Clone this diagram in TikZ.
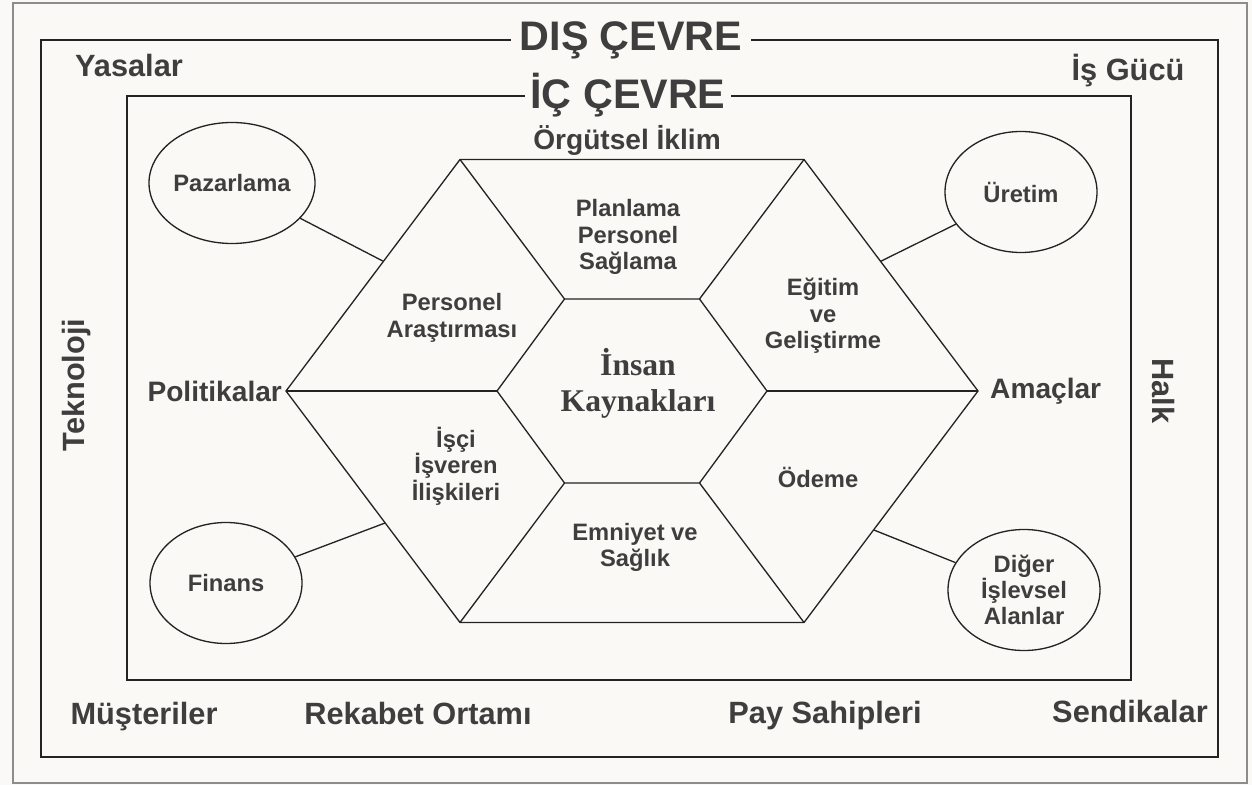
\documentclass[tikz,border=0pt]{standalone}
\usepackage{fontspec}
\setmainfont{Liberation Sans}
\newfontfamily\serifbold{Liberation Serif}
\usetikzlibrary{shapes.geometric,calc,positioning}
\definecolor{paperBg}{RGB}{250,249,245}
\definecolor{inkGray}{RGB}{62,62,62}
\definecolor{lineGray}{RGB}{35,35,35}

\begin{document}
\begin{tikzpicture}[
  every node/.style={text=inkGray},
  frame/.style={
    draw=lineGray,
    line width=0.8pt,
  },
  hexline/.style={
    draw=lineGray,
    line width=0.75pt,
    line join=miter,
  },
  envtitle/.style={
    fill=paperBg,
    inner xsep=5pt,
    inner ysep=2pt,
    font=\bfseries\fontsize{23.5}{27}\selectfont,
  },
  outerlbl/.style={
    anchor=base,
    font=\bfseries\fontsize{17.5}{20}\selectfont,
  },
  midlbl/.style={
    font=\bfseries\fontsize{16}{18}\selectfont,
  },
  innerlbl/.style={
    align=center,
    font=\bfseries\fontsize{13.5}{15}\selectfont,
  },
  area/.style={
    ellipse,
    draw=lineGray,
    line width=0.75pt,
    minimum width=30.4mm,
    minimum height=24.2mm,
    inner sep=0pt,
    align=center,
    font=\bfseries\fontsize{13.5}{14.6}\selectfont,
  },
]

  % paper and frames
  \fill[paperBg] (0,0) rectangle (25.04,15.7);
  \draw[draw=black!45, line width=0.6pt] (0.26,0.04) rectangle (24.94,15.64);
  \draw[frame] (0.82,0.56) rectangle (24.36,14.9);
  \draw[frame] (2.54,2.1) rectangle (22.62,13.78);

  \node[envtitle] (dis) at (12.62,14.9) {DIŞ ÇEVRE};
  \node[envtitle, inner xsep=3pt] (ic) at (12.56,13.8) {İÇ ÇEVRE};

  % hexagon corners
  \coordinate (o1) at (19.56,7.88);
  \coordinate (o2) at (16.08,12.51);
  \coordinate (o3) at (9.20,12.51);
  \coordinate (o4) at (5.72,7.88);
  \coordinate (o5) at (9.20,3.25);
  \coordinate (o6) at (16.08,3.25);

  \coordinate (i1) at (15.34,7.88);
  \coordinate (i2) at (13.99,9.72);
  \coordinate (i3) at (11.29,9.72);
  \coordinate (i4) at (9.94,7.88);
  \coordinate (i5) at (11.29,6.04);
  \coordinate (i6) at (13.99,6.04);

  \draw[hexline] (o1) -- (o2) -- (o3) -- (o4) -- (o5) -- (o6) -- cycle;
  \draw[hexline] (i1) -- (i2) -- (i3) -- (i4) -- (i5) -- (i6) -- cycle;
  \foreach \k in {1,...,6}
    \draw[hexline] (i\k) -- (o\k);

  % labels outside the hexagon
  \node[midlbl] (iklim) at (12.54,12.9) {Örgütsel İklim};
  \node[midlbl, inner sep=1pt, left=0.04cm of o4] (polit) {Politikalar};
  \node[midlbl, right=0.12cm of o1] (amac) {Amaçlar};

  \node[innerlbl] (plan) at (12.56,10.96) {Planlama\\Personel\\Sağlama};
  \node[innerlbl] (arast) at (9.04,9.34) {Personel\\Araştırması};
  \node[innerlbl] (egitim) at (16.46,9.38) {Eğitim\\ve\\Geliştirme};
  \node[align=center, font=\serifbold\bfseries\fontsize{18}{20.5}\selectfont]
    (insan) at (12.76,8.04) {İnsan\\Kaynakları};
  \node[innerlbl] (isci) at (9.12,6.38) {İşçi\\İşveren\\İlişkileri};
  \node[innerlbl] (odeme) at (16.36,6.16) {Ödeme};
  \node[innerlbl] (emniyet) at (12.7,4.75) {Emniyet ve\\Sağlık};

  % functional areas
  \node[area] (paz) at (4.64,12.04) {Pazarlama};
  \node[area] (uret) at (20.42,11.86) {Üretim};
  \node[area] (fin) at (4.52,4.04) {Finans};
  \node[area] (diger) at (20.48,3.9) {Diğer\\İşlevsel\\Alanlar};

  \coordinate (pazE) at ($(o4)!0.56!(o3)$);
  \coordinate (uretE) at ($(o1)!0.56!(o2)$);
  \coordinate (finE) at ($(o4)!0.57!(o5)$);
  \coordinate (digerE) at ($(o1)!0.6!(o6)$);

  \draw[hexline] (paz) -- (pazE);
  \draw[hexline] (uret) -- (uretE);
  \draw[hexline] (fin) -- (finE);
  \draw[hexline] (diger) -- (digerE);

  % external environment
  \node[outerlbl] (yasa) at (2.58,14.16) {Yasalar};
  \node[outerlbl] (isgucu) at (22.56,14.08) {İş Gücü};
  \node[outerlbl, anchor=center, rotate=90] (tekno) at (1.54,8.0) {Teknoloji};
  \node[outerlbl, anchor=center, rotate=-90] (halk) at (23.26,7.88) {Halk};
  \node[outerlbl] (muster) at (2.88,1.22) {Müşteriler};
  \node[outerlbl] (rekabet) at (8.36,1.22) {Rekabet Ortamı};
  \node[outerlbl] (pay) at (16.5,1.24) {Pay Sahipleri};
  \node[outerlbl] (sendika) at (22.6,1.26) {Sendikalar};

\end{tikzpicture}
\end{document}
